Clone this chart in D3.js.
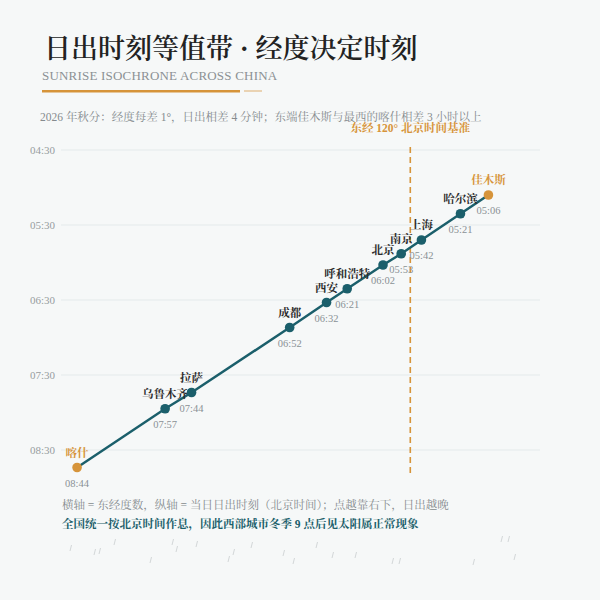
<!DOCTYPE html>
<html>
<head>
<meta charset="utf-8">
<script src="https://cdn.jsdelivr.net/npm/d3@7/dist/d3.min.js"></script>
<style>
  html, body { margin: 0; padding: 0; background: #f6f8f8; }
  svg { display: block; }
  text { font-family: "Liberation Serif", "Noto Serif CJK SC", "Noto Sans CJK SC", serif; }
</style>
</head>
<body>
<script>
// ---- data ----
const cities = ["喀什", "乌鲁木齐", "拉萨", "成都", "西安", "呼和浩特", "北京", "南京", "上海", "哈尔滨", "佳木斯"];
const longitudes = [75.99, 87.62, 91.11, 104.07, 108.94, 111.67, 116.40, 118.80, 121.47, 126.63, 130.32];
const sunrise = ["08:44", "07:57", "07:44", "06:52", "06:32", "06:21", "06:02", "05:53", "05:42", "05:21", "05:06"];
const yTicks = ["04:30", "05:30", "06:30", "07:30", "08:30"];
const refLongitude = 120;
const yDomain = ["04:30", "08:50"];
const lonDomain = [74, 137];
// decorative texture strokes at the foot of the page
const decoMarks = [[70,548],[94,552],[99,551],[114,542],[150,560],[172,542],[176,549],[196,544],[228,559],[233,552],[251,545],[283,553],[293,561],[316,545],[332,555],[355,555],[392,561],[399,561],[473,562],[501,539],[508,539],[514,557]];

const toMin = s => { const [h, m] = s.split(":").map(Number); return h * 60 + m; };

const W = 600, H = 600;
const teal = "#1b5f6b", orange = "#d6943a", grid = "#e4eaeb";

const svg = d3.select("body").append("svg").attr("width", W).attr("height", H);
svg.append("rect").attr("width", W).attr("height", H).attr("fill", "#f6f8f8");

// header
svg.append("text").attr("x", 44).attr("y", 58)
  .attr("font-size", 27).attr("font-weight", 600).attr("fill", "#222")
  .text("日出时刻等值带 · 经度决定时刻");
svg.append("text").attr("x", 42).attr("y", 80)
  .attr("font-size", 13).attr("letter-spacing", 0.2).attr("fill", "#8c9194")
  .text("SUNRISE ISOCHRONE ACROSS CHINA");
svg.append("rect").attr("x", 42).attr("y", 90).attr("width", 198).attr("height", 2.5).attr("fill", orange);
svg.append("rect").attr("x", 244).attr("y", 90).attr("width", 18).attr("height", 2).attr("fill", "#ead3b3");
svg.append("text").attr("x", 40).attr("y", 121)
  .attr("font-size", 11.5).attr("fill", "#858b8e")
  .text("2026 年秋分：经度每差 1°，日出相差 4 分钟；东端佳木斯与最西的喀什相差 3 小时以上");

// scales
const x = d3.scaleLinear().domain(lonDomain).range([62, 539]);
const y = d3.scaleLinear().domain(yDomain.map(toMin)).range([150, 475]);

// grid + y axis labels
const gy = svg.append("g");
yTicks.forEach(t => {
  gy.append("line").attr("x1", 61).attr("x2", 540)
    .attr("y1", y(toMin(t))).attr("y2", y(toMin(t)))
    .attr("stroke", grid).attr("stroke-width", 1);
  gy.append("text").attr("x", 55).attr("y", y(toMin(t)) + 4)
    .attr("text-anchor", "end").attr("font-size", 11).attr("fill", "#979da0")
    .text(t);
});

// reference line
svg.append("line").attr("x1", x(refLongitude)).attr("x2", x(refLongitude))
  .attr("y1", y.range()[0] - 3).attr("y2", y.range()[1])
  .attr("stroke", orange).attr("stroke-width", 1.6).attr("stroke-dasharray", "6,4");
svg.append("text").attr("x", x(refLongitude)).attr("y", 132)
  .attr("text-anchor", "middle").attr("font-size", 11.5).attr("font-weight", 700).attr("fill", orange)
  .text("东经 120° 北京时间基准");

// data
const data = cities.map((c, i) => ({ city: c, lon: longitudes[i], t: sunrise[i], m: toMin(sunrise[i]), end: i === 0 || i === cities.length - 1 }));

svg.append("path").datum(data)
  .attr("fill", "none").attr("stroke", teal).attr("stroke-width", 2.5)
  .attr("d", d3.line().x(d => x(d.lon)).y(d => y(d.m)));

const pts = svg.append("g").selectAll("g").data(data).join("g")
  .attr("transform", d => `translate(${x(d.lon)},${y(d.m)})`);
pts.append("circle").attr("r", 4.8).attr("fill", d => d.end ? orange : teal);
pts.append("text").attr("y", -11).attr("text-anchor", "middle")
  .attr("font-size", 11.5).attr("font-weight", 700)
  .attr("fill", d => d.end ? orange : "#2b2b2b")
  .text(d => d.city);
pts.append("text").attr("y", 19).attr("text-anchor", "middle")
  .attr("font-size", 10.5).attr("fill", "#8a9195")
  .text(d => d.t);

// footnotes
svg.append("text").attr("x", 62).attr("y", 509)
  .attr("font-size", 11.5).attr("fill", "#858b8e")
  .text("横轴 = 东经度数，纵轴 = 当日日出时刻（北京时间）；点越靠右下，日出越晚");
svg.append("text").attr("x", 62).attr("y", 528)
  .attr("font-size", 11.5).attr("font-weight", 700).attr("fill", teal)
  .text("全国统一按北京时间作息，因此西部城市冬季 9 点后见太阳属正常现象");

// texture
svg.append("g").selectAll("line").data(decoMarks).join("line")
  .attr("x1", d => d[0]).attr("y1", d => d[1] + 3)
  .attr("x2", d => d[0] + 1.5).attr("y2", d => d[1] - 3)
  .attr("stroke", "#d3d7d8").attr("stroke-width", 1);
</script>
</body>
</html>
